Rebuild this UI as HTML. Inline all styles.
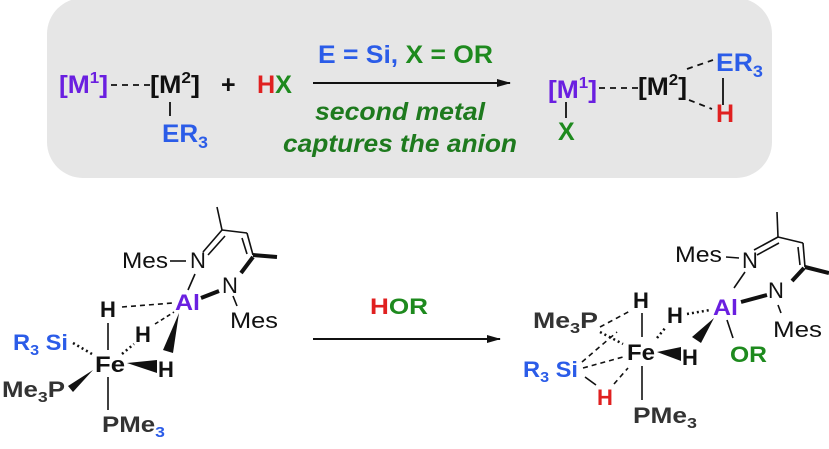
<!DOCTYPE html>
<html><head><meta charset="utf-8"><style>
html,body{margin:0;padding:0;background:#fff;}
svg{display:block;font-family:"Liberation Sans",Arial,sans-serif;}
</style></head><body>
<svg width="829" height="449" viewBox="0 0 829 449" xmlns="http://www.w3.org/2000/svg">
<defs>
<marker id="ah" markerWidth="14" markerHeight="8" refX="13" refY="4" orient="auto" markerUnits="userSpaceOnUse"><path d="M0,0 L14,4 L0,8 z" fill="#111"/></marker>
</defs>
<rect x="47" y="-2" width="725" height="180" rx="36" fill="#e6e6e6"/>
<g font-size="25" font-weight="bold">
<text x="59" y="93" fill="#6a1fe0" textLength="49" lengthAdjust="spacingAndGlyphs">[M<tspan font-size="16" dy="-10">1</tspan><tspan dy="10">]</tspan></text>
<text x="150" y="93" fill="#111" textLength="50" lengthAdjust="spacingAndGlyphs">[M<tspan font-size="16" dy="-10">2</tspan><tspan dy="10">]</tspan></text>
<text x="221" y="93" fill="#111">+</text>
<text x="257" y="93" fill="#e02020" textLength="35" lengthAdjust="spacingAndGlyphs">H<tspan fill="#1e8a1e">X</tspan></text>
<text x="162" y="142" fill="#2b5ce8" textLength="46" lengthAdjust="spacingAndGlyphs">ER<tspan font-size="17" dy="6">3</tspan></text>
<text x="318" y="63" fill="#2b5ce8" textLength="175" lengthAdjust="spacingAndGlyphs">E = Si, <tspan fill="#1e8a1e">X = OR</tspan></text>
<text x="315" y="120" fill="#1e7a1e" font-style="italic" textLength="170" lengthAdjust="spacingAndGlyphs">second metal</text>
<text x="283" y="152" fill="#1e7a1e" font-style="italic" textLength="234" lengthAdjust="spacingAndGlyphs">captures the anion</text>
<text x="548" y="98" fill="#6a1fe0" textLength="49" lengthAdjust="spacingAndGlyphs">[M<tspan font-size="16" dy="-10">1</tspan><tspan dy="10">]</tspan></text>
<text x="638" y="95" fill="#111" textLength="49" lengthAdjust="spacingAndGlyphs">[M<tspan font-size="16" dy="-10">2</tspan><tspan dy="10">]</tspan></text>
<text x="716" y="71" fill="#2b5ce8" textLength="47" lengthAdjust="spacingAndGlyphs">ER<tspan font-size="17" dy="6">3</tspan></text>
<text x="716" y="122" fill="#e02020">H</text>
<text x="558" y="140" fill="#1e8a1e">X</text>
</g>
<g stroke="#111" stroke-width="1.8" fill="none">
<line x1="111" y1="85" x2="150" y2="85" stroke-dasharray="6,5"/>
<line x1="170" y1="102" x2="170" y2="116"/>
<line x1="313" y1="83" x2="510" y2="83" stroke-width="2" marker-end="url(#ah)"/>
<line x1="599" y1="88" x2="640" y2="88" stroke-dasharray="6,5"/>
<line x1="566" y1="102" x2="566" y2="118"/>
<line x1="687" y1="69" x2="713" y2="60" stroke-dasharray="6,5"/>
<line x1="689" y1="100" x2="712" y2="109" stroke-dasharray="6,5"/>
<line x1="723" y1="78" x2="723" y2="105"/>
</g>
<!-- bottom left -->
<g font-size="22">
<text x="122" y="268" fill="#111" textLength="46" lengthAdjust="spacingAndGlyphs">Mes</text>
<text x="190" y="268" fill="#111">N</text>
<text x="222" y="293" fill="#111">N</text>
<text x="230" y="328" fill="#111" textLength="48" lengthAdjust="spacingAndGlyphs">Mes</text>
<g font-weight="bold">
<text x="175" y="310" fill="#6a1fe0" textLength="25" lengthAdjust="spacingAndGlyphs">Al</text>
<text x="100" y="317" fill="#111">H</text>
<text x="135" y="342" fill="#111">H</text>
<text x="158" y="377" fill="#111">H</text>
<text x="95" y="372" fill="#111" textLength="30" lengthAdjust="spacingAndGlyphs">Fe</text>
<text x="13" y="350" fill="#2b5ce8" textLength="55" lengthAdjust="spacingAndGlyphs">R<tspan font-size="15" dy="5">3</tspan><tspan dy="-5"> Si</tspan></text>
<text x="2" y="397" fill="#333" textLength="63" lengthAdjust="spacingAndGlyphs">Me<tspan font-size="15" dy="5">3</tspan><tspan dy="-5">P</tspan></text>
<text x="102" y="432" fill="#333" textLength="63" lengthAdjust="spacingAndGlyphs">PMe<tspan font-size="15" dy="5" fill="#2b5ce8">3</tspan></text>
</g>
</g>
<g stroke="#111" stroke-width="1.6" fill="none">
<line x1="170" y1="261" x2="186" y2="261"/>
<line x1="203" y1="252" x2="222" y2="230"/>
<line x1="208" y1="255" x2="225" y2="236"/>
<line x1="222" y1="230" x2="217" y2="207"/>
<line x1="222" y1="230" x2="247" y2="233"/>
<line x1="247" y1="233" x2="253" y2="255"/>
<line x1="242" y1="238" x2="247" y2="254"/>
<line x1="253" y1="255" x2="277" y2="257" stroke-width="4"/>
<line x1="253" y1="257" x2="241" y2="273" stroke-width="4"/>
<line x1="195" y1="274" x2="188" y2="290"/>
<line x1="201" y1="298" x2="219" y2="291" stroke-width="4"/>
<line x1="233" y1="296" x2="237" y2="306"/>
<line x1="122" y1="307" x2="173" y2="303" stroke-dasharray="5,4"/>
<line x1="155" y1="324" x2="174" y2="312" stroke-dasharray="4,3"/>
<line x1="108" y1="323" x2="108" y2="350"/>
<line x1="108" y1="377" x2="108" y2="410"/>
<line x1="73" y1="343" x2="92" y2="354" stroke-dasharray="2,3" stroke-width="2.5"/>
<line x1="122" y1="354" x2="134" y2="344" stroke-dasharray="2,3" stroke-width="2.5"/>
<line x1="313" y1="339" x2="500" y2="339" stroke-width="2" marker-end="url(#ah)"/>
</g>
<polygon points="179,313 173,353 163,350" fill="#111"/>
<polygon points="127,363 157,360 157,373" fill="#111"/>
<polygon points="93,370 68,386 73,392" fill="#111"/>
<text x="370" y="314" font-size="22" font-weight="bold" fill="#e02020" textLength="58" lengthAdjust="spacingAndGlyphs">H<tspan fill="#1e8a1e">OR</tspan></text>
<!-- bottom right -->
<g font-size="22">
<text x="675" y="262" fill="#111" textLength="47" lengthAdjust="spacingAndGlyphs">Mes</text>
<text x="742" y="268" fill="#111">N</text>
<text x="768" y="298" fill="#111">N</text>
<text x="773" y="337" fill="#111" textLength="49" lengthAdjust="spacingAndGlyphs">Mes</text>
<g font-weight="bold">
<text x="713" y="315" fill="#6a1fe0" textLength="25" lengthAdjust="spacingAndGlyphs">Al</text>
<text x="667" y="323" fill="#111">H</text>
<text x="633" y="308" fill="#111">H</text>
<text x="627" y="360" fill="#111" textLength="28" lengthAdjust="spacingAndGlyphs">Fe</text>
<text x="682" y="365" fill="#111">H</text>
<text x="730" y="362" fill="#1e8a1e" textLength="37" lengthAdjust="spacingAndGlyphs">OR</text>
<text x="533" y="328" fill="#333" textLength="65" lengthAdjust="spacingAndGlyphs">Me<tspan font-size="15" dy="5">3</tspan><tspan dy="-5">P</tspan></text>
<text x="523" y="377" fill="#2b5ce8" textLength="55" lengthAdjust="spacingAndGlyphs">R<tspan font-size="15" dy="5">3</tspan><tspan dy="-5"> Si</tspan></text>
<text x="597" y="405" fill="#e02020">H</text>
<text x="633" y="423" fill="#333" textLength="64" lengthAdjust="spacingAndGlyphs">PMe<tspan font-size="15" dy="5">3</tspan></text>
</g>
</g>
<g stroke="#111" stroke-width="1.6" fill="none">
<line x1="726" y1="257" x2="739" y2="258"/>
<line x1="754" y1="250" x2="778" y2="237"/>
<line x1="757" y1="255" x2="779" y2="243"/>
<line x1="778" y1="237" x2="777" y2="212"/>
<line x1="778" y1="237" x2="803" y2="243"/>
<line x1="803" y1="243" x2="805" y2="267"/>
<line x1="798" y1="247" x2="800" y2="265"/>
<line x1="805" y1="267" x2="829" y2="273" stroke-width="4"/>
<line x1="804" y1="268" x2="792" y2="281" stroke-width="4"/>
<line x1="745" y1="272" x2="734" y2="288"/>
<line x1="741" y1="302" x2="767" y2="295" stroke-width="4"/>
<line x1="778" y1="305" x2="781" y2="313"/>
<line x1="727" y1="320" x2="733" y2="338"/>
<line x1="687" y1="314" x2="710" y2="310" stroke-dasharray="2,3" stroke-width="2.5"/>
<line x1="642" y1="313" x2="642" y2="337"/>
<line x1="642" y1="366" x2="642" y2="400"/>
<line x1="600" y1="327" x2="630" y2="311" stroke-dasharray="5,4"/>
<line x1="600" y1="332" x2="623" y2="344" stroke-dasharray="2,3" stroke-width="2.5"/>
<line x1="582" y1="362" x2="617" y2="332" stroke-dasharray="5,4"/>
<line x1="583" y1="368" x2="623" y2="357" stroke-dasharray="5,4"/>
<line x1="585" y1="377" x2="596" y2="385"/>
<line x1="614" y1="384" x2="628" y2="368" stroke-dasharray="5,4"/>
<line x1="657" y1="338" x2="666" y2="327" stroke-dasharray="2,3" stroke-width="2.5"/>
</g>
<polygon points="714,318 701,343 692,337" fill="#111"/>
<polygon points="657,352 681,347 681,361" fill="#111"/>
</svg>
</body></html>
